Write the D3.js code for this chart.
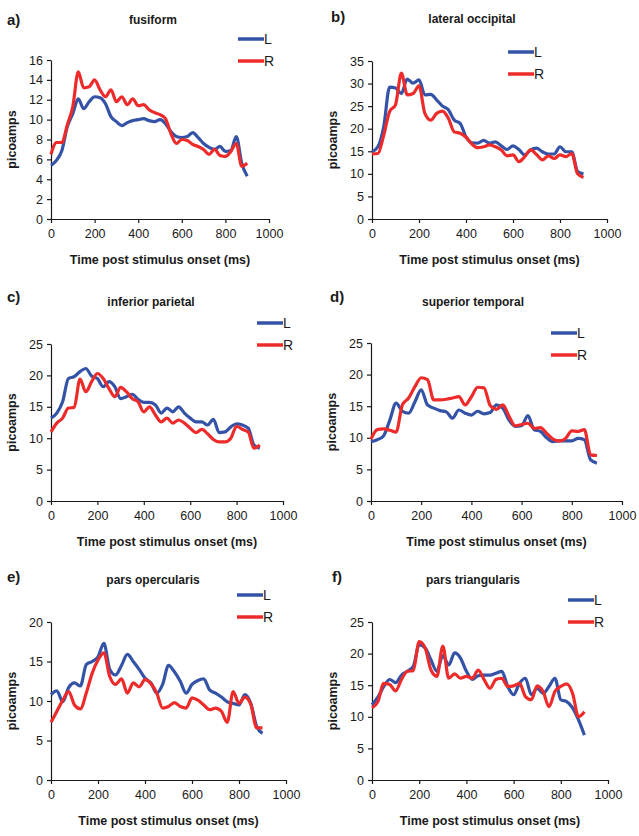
<!DOCTYPE html>
<html>
<head>
<meta charset="utf-8">
<script src="https://cdn.jsdelivr.net/npm/d3@7"></script>
<style>
  html, body { margin: 0; padding: 0; background: #fff; }
  svg { display: block; font-family: "Liberation Sans", Arial, sans-serif; }
</style>
</head>
<body>
<svg id="chart" width="639" height="836"></svg>
<script>
// Time points (ms)
const times = [0,25,50,75,100,125,150,175,200,225,250,275,300,325,350,375,400,425,450,475,500,525,550,575,600,625,650,675,700,725,750,775,800,825,850,875,900];

// a) fusiform
const fusiformL = [5.4,5.9,6.9,9.3,10.6,12.1,11.1,11.8,12.3,12.2,11.6,10.3,9.8,9.4,9.7,9.9,10.0,10.1,9.9,9.8,10.0,9.6,8.8,8.3,8.2,8.3,8.7,8.2,7.6,7.2,7.0,7.3,6.8,6.9,8.3,5.6,4.3];
const fusiformR = [6.5,7.7,7.7,9.5,11.3,14.8,13.2,13.3,14.0,13.0,12.3,13.0,11.8,12.3,11.5,12.1,11.4,11.5,11.0,10.7,10.5,10.1,8.6,7.6,8.0,7.9,7.5,7.3,7.0,6.5,7.0,6.4,6.3,6.8,7.6,5.3,5.6];
// b) lateral occipital
const lateralOccL = [14.9,16.0,20.5,29.2,29.0,27.8,31.0,30.1,30.8,27.5,27.6,26.4,25.0,24.2,21.9,21.2,18.2,16.9,16.8,17.4,16.8,17.1,16.2,15.4,16.2,15.4,14.2,15.3,15.7,14.9,14.4,14.4,16.0,14.9,14.9,10.5,10.0];
const lateralOccR = [14.4,14.5,18.6,23.8,25.3,32.3,27.5,27.8,29.5,23.4,21.9,23.4,23.9,22.3,19.3,19.0,18.1,16.6,15.8,16.0,16.4,16.0,15.3,14.0,14.2,12.7,13.8,15.3,14.3,13.1,14.0,13.4,14.2,13.8,14.5,10.0,9.2];
// c) inferior parietal
const infParL = [13.2,14.0,15.8,19.5,19.8,20.6,21.1,19.9,19.5,18.2,19.0,18.2,16.3,16.6,17.0,16.2,15.7,15.7,15.3,14.0,14.8,14.2,15.0,14.0,13.2,12.6,12.6,12.1,13.0,10.9,11.0,11.8,12.3,12.1,11.6,8.9,8.4];
const infParR = [11.0,12.4,13.2,14.8,14.9,19.4,17.4,19.0,20.3,19.5,17.9,16.6,18.1,17.4,16.3,15.8,14.2,15.0,13.7,12.6,13.2,12.4,12.9,12.4,11.6,10.9,11.4,10.7,9.8,9.4,9.4,10.0,11.9,11.4,11.0,8.4,8.9];
// d) superior temporal
const supTempL = [9.4,9.7,10.3,12.8,15.5,14.2,13.9,15.7,17.6,15.2,14.7,14.3,14.1,13.1,14.4,13.9,13.6,14.2,13.8,14.0,15.2,14.7,12.8,11.8,11.9,13.5,11.3,11.0,10.0,9.4,9.5,9.5,9.5,9.9,9.7,6.5,6.0];
const supTempR = [9.8,11.3,11.4,11.2,10.9,15.2,16.3,18.1,19.5,19.2,16.0,16.0,16.1,16.3,16.5,15.2,16.5,18.0,17.9,15.1,14.5,15.2,13.4,11.9,12.1,12.3,11.5,11.6,10.7,9.8,9.5,9.9,11.1,11.0,11.3,7.3,7.2];
// e) pars opercularis
const parsOpL = [10.8,11.3,9.9,11.7,12.3,11.9,14.6,15.0,15.6,17.3,14.0,13.3,14.5,15.9,15.0,14.0,12.9,12.3,11.0,12.1,14.5,13.7,12.5,11.0,12.1,12.6,12.8,11.4,11.0,10.5,9.9,9.7,9.5,10.8,9.7,6.8,5.9];
const parsOpR = [7.3,8.7,10.1,11.2,9.5,9.0,11.0,13.5,15.2,16.1,13.1,12.1,12.8,11.0,12.3,11.8,12.7,12.2,11.0,9.1,9.3,9.8,9.3,9.1,10.4,10.1,9.5,8.9,9.1,8.7,7.3,11.2,9.7,10.5,9.6,6.6,6.6];
// f) pars triangularis
const parsTriL = [11.9,13.1,14.8,15.9,15.4,16.6,17.2,18.0,21.4,20.9,19.0,17.2,19.7,18.2,20.1,19.3,17.2,15.9,16.5,16.6,16.6,16.9,17.2,14.8,13.5,15.3,16.1,13.5,14.5,13.7,14.8,16.1,12.7,12.4,11.4,9.5,7.1];
const parsTriR = [11.4,12.4,15.3,15.1,14.1,15.9,17.2,17.3,21.9,20.9,17.4,16.4,21.2,16.1,16.8,16.1,16.4,16.1,17.4,15.9,14.5,15.9,16.1,14.8,14.9,15.3,13.2,12.7,14.9,14.0,11.6,14.0,14.8,15.2,13.7,10.0,10.8];

const panelLetters = ["a)","b)","c)","d)","e)","f)"];
const panelTitles = ["fusiform","lateral occipital","inferior parietal","superior temporal","pars opercularis","pars triangularis"];
const yMaxes = [16,35,25,25,20,25];
const yTickSteps = [2,5,5,5,5,5];
const xTickValues = [0,200,400,600,800,1000];
const seriesNames = ["L","R"];

const seriesL = [fusiformL, lateralOccL, infParL, supTempL, parsOpL, parsTriL];
const seriesR = [fusiformR, lateralOccR, infParR, supTempR, parsOpR, parsTriR];

// Layout (pixel boxes of each plot area and label anchors)
const layout = [
  {x0:51,  x1:269, y0:60,  y1:219, tx:153, ty:24,  lx:7,   ly:25,  legX:238, legY:39},
  {x0:372, x1:607, y0:61,  y1:219, tx:472, ty:23,  lx:331, ly:22,  legX:508, legY:52},
  {x0:51,  x1:283, y0:344, y1:501, tx:151, ty:306, lx:7,   ly:302, legX:257, legY:323},
  {x0:371, x1:622, y0:343, y1:501, tx:473, ty:306, lx:330, ly:302, legX:551, legY:333},
  {x0:51,  x1:286, y0:622, y1:780, tx:153, ty:584, lx:7,   ly:582, legX:237, legY:595},
  {x0:372, x1:608, y0:622, y1:780, tx:473, ty:584, lx:332, ly:582, legX:568, legY:600}
];

const colors = {L:"#3453a6", R:"#ee2b2b"};
const ink = "#1a1a1a";

const svg = d3.select("#chart");

layout.forEach((L, i) => {
  const g = svg.append("g");
  const x = d3.scaleLinear().domain([0,1000]).range([L.x0, L.x1]);
  const y = d3.scaleLinear().domain([0,yMaxes[i]]).range([L.y1, L.y0]);

  // axes
  const yTicks = d3.range(0, yMaxes[i] + 0.001, yTickSteps[i]);
  const yAxis = d3.axisLeft(y).tickValues(yTicks).tickSize(4).tickSizeOuter(0).tickFormat(d3.format("d"));
  const xAxis = d3.axisBottom(x).tickValues(xTickValues).tickSize(4).tickSizeOuter(0).tickFormat(d3.format("d"));

  const ya = g.append("g").attr("transform", `translate(${L.x0},0)`).call(yAxis);
  const xa = g.append("g").attr("transform", `translate(0,${L.y1})`).call(xAxis);
  [ya, xa].forEach(a => {
    a.select(".domain").attr("stroke", ink).attr("stroke-width", 1.2);
    a.selectAll(".tick line").attr("stroke", ink).attr("stroke-width", 1.2);
    a.selectAll(".tick text").attr("fill", ink).style("font-size", "12.5px").attr("font-family", null);
  });
  ya.selectAll(".tick text").attr("x", -8);
  xa.selectAll(".tick text").attr("y", 10);

  // lines
  const line = d3.line().x((d, k) => x(times[k])).y(d => y(d)).curve(d3.curveMonotoneX);
  g.append("path").datum(seriesL[i]).attr("d", line)
    .attr("fill","none").attr("stroke", colors.L).attr("stroke-width", 3.2).attr("stroke-linejoin","round");
  g.append("path").datum(seriesR[i]).attr("d", line)
    .attr("fill","none").attr("stroke", colors.R).attr("stroke-width", 3.2).attr("stroke-linejoin","round");

  // axis titles
  g.append("text").attr("x", (L.x0 + L.x1)/2).attr("y", L.y1 + 45)
    .attr("text-anchor","middle").attr("font-weight","bold").attr("font-size","12.5px").attr("fill", ink)
    .text("Time post stimulus onset (ms)");
  const yc = (L.y0 + L.y1)/2;
  const yx = L.x0 - 35;
  g.append("text").attr("transform", `translate(${yx},${yc}) rotate(-90)`)
    .attr("text-anchor","middle").attr("font-weight","bold").attr("font-size","12.5px").attr("fill", ink)
    .text("picoamps");

  // title + letter
  g.append("text").attr("x", L.tx).attr("y", L.ty).attr("text-anchor","middle")
    .attr("font-weight","bold").attr("font-size","12px").attr("fill", ink).text(panelTitles[i]);
  g.append("text").attr("x", L.lx).attr("y", L.ly)
    .attr("font-weight","bold").attr("font-size","15px").attr("fill", ink).text(panelLetters[i]);

  // legend
  seriesNames.forEach((s, k) => {
    const ly = L.legY + k*22;
    g.append("line").attr("x1", L.legX).attr("x2", L.legX + 26).attr("y1", ly).attr("y2", ly)
      .attr("stroke", colors[s]).attr("stroke-width", 3.5);
    g.append("text").attr("x", L.legX + 26).attr("y", ly + 5).attr("font-size","14px").attr("fill", ink).text(s);
  });
});
</script>
</body>
</html>
